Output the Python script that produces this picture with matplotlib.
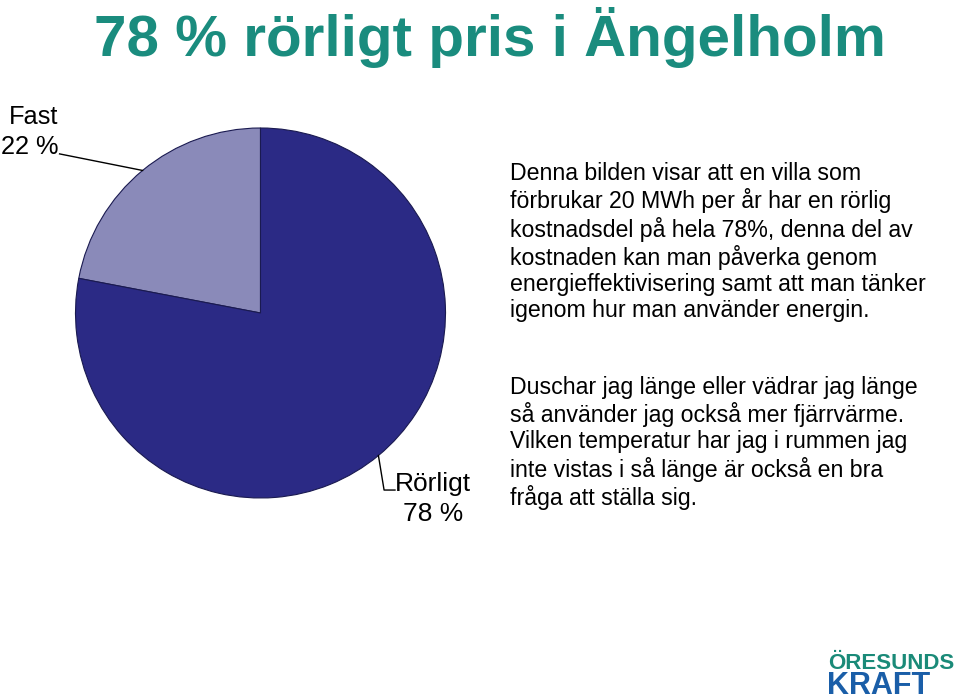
import numpy as np
import matplotlib
matplotlib.use("Agg")
import matplotlib.pyplot as plt
from matplotlib import font_manager

# ---------------------------------------------------------------------------
# Data
# ---------------------------------------------------------------------------
labels = ["Fast", "Rörligt"]
shares = [22, 78]
slice_colors = ["#8a8ab9", "#2b2a85"]

title = "78 % rörligt pris i Ängelholm"
para1 = ("Denna bilden visar att en villa som\n"
         "förbrukar 20 MWh per år har en rörlig\n"
         "kostnadsdel på hela 78%, denna del av\n"
         "kostnaden kan man påverka genom\n"
         "energieffektivisering samt att man tänker\n"
         "igenom hur man använder energin.")
para2 = ("Duschar jag länge eller vädrar jag länge\n"
         "så använder jag också mer fjärrvärme.\n"
         "Vilken temperatur har jag i rummen jag\n"
         "inte vistas i så länge är också en bra\n"
         "fråga att ställa sig.")
logo_top, logo_bottom = "ÖRESUNDS", "KRAFT"

W, H = 960, 700
plt.rcParams["font.family"] = ["Liberation Sans", "DejaVu Sans"]


def has_font(name):
    try:
        font_manager.findfont(font_manager.FontProperties(family=name),
                              fallback_to_default=False)
        return True
    except ValueError:
        return False


narrow = has_font("Liberation Sans Narrow")

fig = plt.figure(figsize=(W / 100, H / 100), dpi=100)
fig.patch.set_facecolor("white")

# pie axes: centre (260, 313) px, radius 185 px
cx, cy, r = 260.5, 313, 185
ax = fig.add_axes([(cx - r) / W, (H - cy - r) / H, 2 * r / W, 2 * r / H])
wedges, _ = ax.pie(shares, colors=slice_colors, startangle=90, counterclock=True,
                   radius=1.0, wedgeprops=dict(edgecolor="#1a1a50", linewidth=0.8))
ax.set_xlim(-1, 1)
ax.set_ylim(-1, 1)
ax.set_aspect("equal")
ax.axis("off")


def mid_point(w):
    a = np.deg2rad((w.theta1 + w.theta2) / 2)
    return np.cos(a), np.sin(a)


# leader for Fast
fx, fy = mid_point(wedges[0])
ax.plot([fx, -1.086], [fy, 0.86], color="black", lw=1.0, clip_on=False)
ax.text(-1.092, 0.83, f"{labels[0]}\n{shares[0]} %", ha="right", va="bottom",
        fontsize=18.3, linespacing=1.36, clip_on=False)

# leader for Rörligt
rx, ry = mid_point(wedges[1])
ax.plot([rx, 0.668, 0.727], [ry, -0.957, -0.957], color="black", lw=1.0,
        clip_on=False)
ax.text(0.932, -0.862, f"{labels[1]}\n{shares[1]} %", ha="center", va="top",
        fontsize=19, linespacing=1.3, clip_on=False)

# title
fig.text(490 / W, 1 - 38 / H, title, ha="center", va="center", fontsize=42,
         fontweight="bold", color="#1a8c7e")

# body text
fig.text(510 / W, 1 - 162 / H, para1, ha="left", va="top", fontsize=16.7,
         linespacing=1.17, color="black")
fig.text(510 / W, 1 - 376 / H, para2, ha="left", va="top", fontsize=16.7,
         linespacing=1.17, color="black")

# logo
if narrow:
    fig.text(828 / W, 1 - 669 / H, logo_top, ha="left", va="baseline",
             fontsize=19, fontweight="bold", color="#1a8a78",
             family="Liberation Sans Narrow")
else:
    fig.text(828 / W, 1 - 669 / H, logo_top, ha="left", va="baseline",
             fontsize=16, fontweight="bold", color="#1a8a78")
fig.text(827 / W, 1 - 694 / H, logo_bottom, ha="left", va="baseline",
         fontsize=22, fontweight="bold", color="#1a5ea8")

fig.savefig("out.png", dpi=100, facecolor="white")
